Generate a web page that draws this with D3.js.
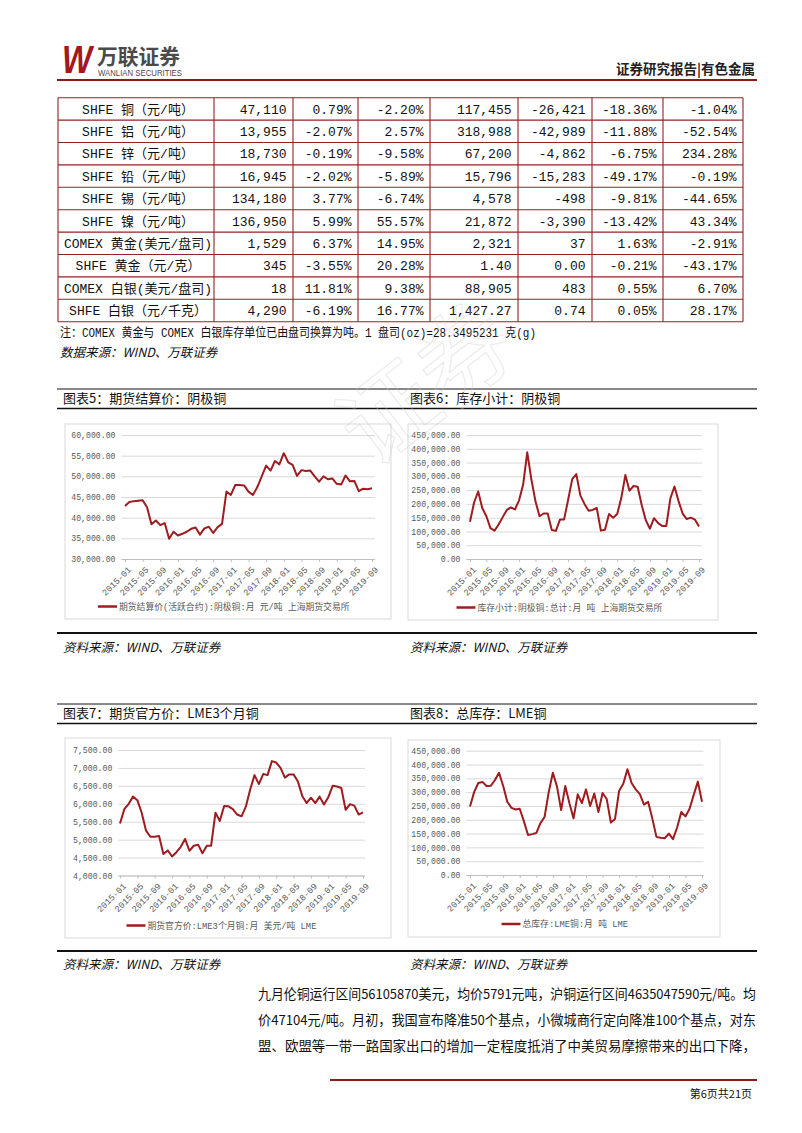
<!DOCTYPE html>
<html><head><meta charset="utf-8">
<script src="https://cdn.jsdelivr.net/npm/d3@7"></script>
<style>
html,body{margin:0;padding:0;background:#fff;}
svg{display:block;}
</style></head><body>
<svg id="page" width="802" height="1133"></svg>
<script>
// ---------- DATA ----------
const tableNames = ["SHFE 铜（元/吨）","SHFE 铝（元/吨）","SHFE 锌（元/吨）","SHFE 铅（元/吨）","SHFE 锡（元/吨）","SHFE 镍（元/吨）","COMEX 黄金(美元/盘司)","SHFE 黄金（元/克）","COMEX 白银(美元/盘司)","SHFE 白银（元/千克）"];
const tablePrice = ["47,110","13,955","18,730","16,945","134,180","136,950","1,529","345","18","4,290"];
const tablePriceMoM = ["0.79%","-2.07%","-0.19%","-2.02%","3.77%","5.99%","6.37%","-3.55%","11.81%","-6.19%"];
const tablePriceYoY = ["-2.20%","2.57%","-9.58%","-5.89%","-6.74%","55.57%","14.95%","20.28%","9.38%","16.77%"];
const tableStock = ["117,455","318,988","67,200","15,796","4,578","21,872","2,321","1.40","88,905","1,427.27"];
const tableStockChg = ["-26,421","-42,989","-4,862","-15,283","-498","-3,390","37","0.00","483","0.74"];
const tableStockMoM = ["-18.36%","-11.88%","-6.75%","-49.17%","-9.81%","-13.42%","1.63%","-0.21%","0.55%","0.05%"];
const tableStockYoY = ["-1.04%","-52.54%","234.28%","-0.19%","-44.65%","43.34%","-2.91%","-43.17%","6.70%","28.17%"];

const months = ["2015-01","2015-02","2015-03","2015-04","2015-05","2015-06","2015-07","2015-08","2015-09","2015-10","2015-11","2015-12",
"2016-01","2016-02","2016-03","2016-04","2016-05","2016-06","2016-07","2016-08","2016-09","2016-10","2016-11","2016-12",
"2017-01","2017-02","2017-03","2017-04","2017-05","2017-06","2017-07","2017-08","2017-09","2017-10","2017-11","2017-12",
"2018-01","2018-02","2018-03","2018-04","2018-05","2018-06","2018-07","2018-08","2018-09","2018-10","2018-11","2018-12",
"2019-01","2019-02","2019-03","2019-04","2019-05","2019-06","2019-07","2019-08","2019-09"];
const tickLabels = ["2015-01","2015-05","2015-09","2016-01","2016-05","2016-09","2017-01","2017-05","2017-09","2018-01","2018-05","2018-09","2019-01","2019-05","2019-09"];

const shfePrice = [42800,43800,44000,44100,44200,42500,38400,39300,38200,38700,34900,36600,
35700,36100,36600,37300,37600,35900,37400,37800,36300,37700,38500,46300,
45500,47900,47900,47800,46300,45500,47400,50000,52600,51400,53700,52900,
55600,53400,52800,50100,51500,51300,51400,50000,48700,50000,49300,49500,
48200,48000,50200,48800,48900,46400,47000,46900,47100];
const shfeStock = [135000,205000,245000,185000,155000,112000,103000,125000,152000,178000,187000,180000,
213000,270000,387000,290000,210000,155000,165000,165000,105000,102000,143000,143000,
215000,290000,308000,230000,200000,175000,178000,185000,103000,106000,163000,150000,
163000,222000,305000,248000,265000,262000,195000,140000,110000,148000,130000,120000,
120000,220000,263000,210000,165000,145000,150000,143000,118000];
const lmePrice = [5450,5850,6000,6200,6100,5750,5250,5080,5080,5100,4600,4700,
4530,4650,4800,5020,4690,4830,4860,4620,4830,4830,5750,5520,
5940,5930,5850,5700,5650,5920,6400,6800,6550,6830,6800,7190,
7150,7000,6730,6820,6820,6620,6220,6020,6170,6020,6200,5980,
6180,6500,6480,6440,5830,5990,5950,5700,5760];
const lmeStock = [248000,300000,333000,337000,322000,323000,343000,370000,323000,265000,243000,237000,
240000,195000,145000,148000,152000,188000,210000,300000,370000,320000,235000,322000,
260000,205000,292000,260000,310000,250000,295000,228000,297000,275000,190000,203000,
305000,330000,383000,333000,310000,293000,255000,265000,205000,138000,135000,133000,
150000,130000,172000,228000,212000,240000,290000,338000,265000];

const priceTicks5 = [30000,35000,40000,45000,50000,55000,60000];
const stockTicks = [0,50000,100000,150000,200000,250000,300000,350000,400000,450000];
const priceTicks7 = [4000,4500,5000,5500,6000,6500,7000,7500];

// ---------- STYLE ----------
const RED = "#9E1C20";
const CJK = "'Noto Sans CJK SC', sans-serif";
const MONO = "'Liberation Mono', 'Noto Sans CJK SC', monospace";

const svg = d3.select("#page");

// ---------- HEADER ----------
svg.append("text").attr("x",62).attr("y",73).attr("font-family","'Liberation Sans', sans-serif")
  .attr("font-weight","bold").attr("font-style","italic").attr("font-size",38).attr("fill","#A3171D")
  .attr("textLength",30).attr("lengthAdjust","spacingAndGlyphs").text("W");
svg.append("text").attr("x",97).attr("y",64).attr("font-family",CJK).attr("font-weight","bold")
  .attr("font-size",21).attr("fill","#4a4a4a").attr("textLength",83).attr("lengthAdjust","spacingAndGlyphs").text("万联证券");
svg.append("text").attr("x",98).attr("y",76).attr("font-family","'Liberation Sans', sans-serif")
  .attr("font-size",8.5).attr("fill","#4a4a4a").attr("textLength",84).attr("lengthAdjust","spacingAndGlyphs").text("WANLIAN SECURITIES");
svg.append("text").attr("x",755).attr("y",74).attr("text-anchor","end").attr("font-family",CJK).attr("font-weight","bold")
  .attr("font-size",13.5).attr("fill","#222").text("证券研究报告|有色金属");
svg.append("line").attr("x1",57).attr("x2",757).attr("y1",80).attr("y2",80).attr("stroke","#8B1A1A").attr("stroke-width",2);

// ---------- TABLE ----------
const colEdges = [58,214,293,358,430,518,592,663,743];
const rowTop = 97.7, rowH = 22.4;
const tg = svg.append("g");
const cols = [tableNames, tablePrice, tablePriceMoM, tablePriceYoY, tableStock, tableStockChg, tableStockMoM, tableStockYoY];
tableNames.forEach((_, r) => {
  const cy = rowTop + r*rowH + rowH/2;
  cols.forEach((col, c) => {
    const t = tg.append("text").attr("y", cy + 4.6).attr("font-family", MONO).attr("font-size", 13).attr("fill","#111").text(col[r]);
    if (c === 0) t.attr("x", (colEdges[0]+colEdges[1])/2 + 2).attr("text-anchor","middle");
    else t.attr("x", colEdges[c+1] - 6.5).attr("text-anchor","end");
  });
});
for (let r = 0; r <= tableNames.length; r++) {
  tg.append("line").attr("x1",colEdges[0]).attr("x2",colEdges[colEdges.length-1])
    .attr("y1",rowTop + r*rowH).attr("y2",rowTop + r*rowH).attr("stroke","#8E2424").attr("stroke-width",1.1);
}
colEdges.forEach(x => tg.append("line").attr("x1",x).attr("x2",x).attr("y1",rowTop).attr("y2",rowTop+tableNames.length*rowH)
  .attr("stroke","#8E2424").attr("stroke-width",1.1));

svg.append("text").attr("x",60).attr("y",337).attr("font-family",MONO).attr("font-size",12.5).attr("fill","#111")
  .attr("textLength",476).attr("lengthAdjust","spacingAndGlyphs")
  .text("注：COMEX 黄金与 COMEX 白银库存单位已由盘司换算为吨。1 盘司(oz)=28.3495231 克(g)");
svg.append("text").attr("x",60).attr("y",357).attr("font-family",CJK).attr("font-style","italic").attr("font-size",12.5).attr("fill","#111")
  .text("数据来源：WIND、万联证券");

// ---------- SECTION LINES ----------
function hline(y, w) { svg.append("line").attr("x1",57).attr("x2",757).attr("y1",y).attr("y2",y).attr("stroke","#111").attr("stroke-width",w); }
hline(389, 1); hline(408.5, 1.6);
hline(633, 1.8);
hline(704, 1); hline(723.5, 1.6);
hline(951, 1.8);

function title(x, y, s) { svg.append("text").attr("x",x).attr("y",y).attr("font-family",CJK).attr("font-size",13).attr("fill","#111").text(s); }
title(63, 403, "图表5：期货结算价：阴极铜");
title(410, 403, "图表6：库存小计：阴极铜");
title(63, 718, "图表7：期货官方价：LME3个月铜");
title(410, 718, "图表8：总库存：LME铜");

function source(x, y) { svg.append("text").attr("x",x).attr("y",y).attr("font-family",CJK).attr("font-style","italic").attr("font-size",12.5).attr("fill","#111").text("资料来源：WIND、万联证券"); }
source(63, 652); source(410, 652);
source(63, 969); source(410, 969);

// ---------- CHARTS ----------
function drawChart(cfg) {
  const g = svg.append("g");
  g.append("rect").attr("x",cfg.box[0]).attr("y",cfg.box[1]).attr("width",cfg.box[2]).attr("height",cfg.box[3])
    .attr("fill","#fff").attr("stroke","#d9d9d9").attr("stroke-width",1);
  const y = d3.scaleLinear().domain(d3.extent(cfg.ticks)).range([cfg.bottom, cfg.top]);
  const x = d3.scalePoint().domain(months).range(cfg.xr);
  // grid
  const grid = g.append("g").attr("transform",`translate(${cfg.gl},0)`)
    .call(d3.axisLeft(y).tickValues(cfg.ticks).tickSize(-(cfg.gr - cfg.gl)).tickFormat(""));
  grid.select(".domain").remove();
  grid.selectAll("line").attr("stroke","#d9d9d9").attr("stroke-width",1);
  // y labels
  const ya = g.append("g").attr("transform",`translate(${cfg.gl},0)`)
    .call(d3.axisLeft(y).tickValues(cfg.ticks).tickSize(0).tickPadding(6).tickFormat(d3.format(",.2f")));
  ya.select(".domain").remove();
  ya.selectAll("text").attr("font-family",MONO).attr("font-size",8.2).attr("fill","#595959");
  // x axis
  const xa = g.append("g").attr("transform",`translate(0,${cfg.bottom})`)
    .call(d3.axisBottom(x).tickValues(tickLabels).tickSize(3));
  xa.select(".domain").attr("d",`M${cfg.gl},0.5H${cfg.gr}`).attr("stroke","#bfbfbf");
  xa.selectAll("line").attr("stroke","#bfbfbf");
  xa.selectAll("text").attr("x",0).attr("y",0).attr("dy","0.35em").attr("text-anchor","end")
    .attr("transform","translate(4,9) rotate(-45)")
    .attr("font-family",MONO).attr("font-size",8.8).attr("fill","#595959");
  // line
  g.append("path").datum(cfg.data).attr("fill","none").attr("stroke",RED).attr("stroke-width",2)
    .attr("stroke-linejoin","round")
    .attr("d", d3.line().x((d,i) => x(months[i])).y(d => y(d)));
  // legend
  g.append("line").attr("x1",cfg.leg[0]).attr("x2",cfg.leg[0]+19).attr("y1",cfg.leg[1]).attr("y2",cfg.leg[1])
    .attr("stroke",RED).attr("stroke-width",2.5);
  g.append("text").attr("x",cfg.leg[0]+21).attr("y",cfg.leg[1]+3).attr("font-family",MONO).attr("font-size",8.8)
    .attr("fill","#595959").text(cfg.legText);
}

drawChart({box:[65,424,326,195], ticks:priceTicks5, top:435, bottom:559, gl:121.5, gr:375, xr:[125,372],
  data:shfePrice, leg:[98,606.5], legText:"期货结算价(活跃合约):阴极铜:月 元/吨 上海期货交易所"});
drawChart({box:[408,424,310,196], ticks:stockTicks, top:435, bottom:559, gl:466.5, gr:702, xr:[470,699],
  data:shfeStock, leg:[456.5,607.5], legText:"库存小计:阴极铜:总计:月 吨 上海期货交易所"});
drawChart({box:[65,738,326,200], ticks:priceTicks7, top:750, bottom:875.5, gl:118.3, gr:365, xr:[120,363],
  data:lmePrice, leg:[126.5,925.5], legText:"期货官方价:LME3个月铜:月 美元/吨 LME"});
drawChart({box:[408,740,312,197], ticks:stockTicks, top:750.7, bottom:875, gl:466.5, gr:703.5, xr:[470,702],
  data:lmeStock, leg:[501.5,924], legText:"总库存:LME铜:月 吨 LME"});

// ---------- WATERMARK ----------
svg.append("text").attr("transform","translate(372,470) rotate(-38)").attr("font-family",CJK).attr("font-size",96)
  .attr("fill","none").attr("stroke","#c8c8c8").attr("stroke-width",1.1).attr("opacity",0.38).text("证券");

// ---------- PARAGRAPH ----------
const para = [
  "九月伦铜运行区间56105870美元，均价5791元吨，沪铜运行区间4635047590元/吨。均",
  "价47104元/吨。月初，我国宣布降准50个基点，小微城商行定向降准100个基点，对东",
  "盟、欧盟等一带一路国家出口的增加一定程度抵消了中美贸易摩擦带来的出口下降，"
];
para.forEach((s, i) => {
  svg.append("text").attr("x",258).attr("y",999 + i*26).attr("font-family",CJK).attr("font-size",13.5).attr("fill","#111")
    .attr("textLength",498).attr("lengthAdjust","spacingAndGlyphs").text(s);
});

// ---------- FOOTER ----------
svg.append("line").attr("x1",330).attr("x2",757).attr("y1",1080).attr("y2",1080).attr("stroke","#8B1A1A").attr("stroke-width",2);
svg.append("text").attr("x",752).attr("y",1098).attr("text-anchor","end").attr("font-family",CJK).attr("font-size",11).attr("fill","#111").text("第6页共21页");
</script>
</body></html>
